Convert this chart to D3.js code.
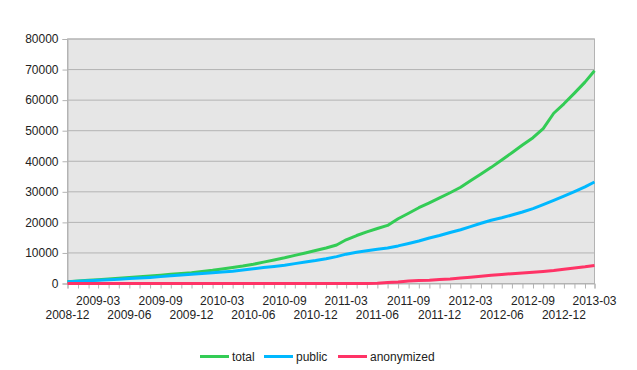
<!DOCTYPE html>
<html>
<head>
<meta charset="utf-8">
<script src="https://cdn.jsdelivr.net/npm/d3@7"></script>
<style>
  body { margin: 0; background: #fff; }
  text { font-family: "Liberation Sans", Arial, sans-serif; fill: #222; }
</style>
</head>
<body>
<div id="chart"></div>
<script>
// monthly samples, 2008-12 .. 2013-03
var months = d3.range(52).map(function(i) { return new Date(2008, 11 + i, 1); });

var total = [600, 850, 1050, 1250, 1450, 1700, 1950, 2200, 2450, 2700,
  3000, 3300, 3500, 3900, 4300, 4750, 5200, 5700, 6300, 7000,
  7700, 8400, 9200, 10000, 10800, 11600, 12600, 14300, 15700, 16900,
  18000, 19000, 21200, 23000, 24800, 26400, 28000, 29700, 31500, 33600,
  35800, 38000, 40400, 42800, 45300, 47700, 50700, 55700, 58800, 62300,
  65900, 69600];

var pub = [600, 750, 900, 1050, 1200, 1400, 1600, 1800, 2000, 2250,
  2500, 2750, 3000, 3250, 3500, 3750, 4000, 4400, 4800, 5200,
  5600, 6000, 6500, 7000, 7500, 8100, 8800, 9600, 10200, 10700,
  11200, 11600, 12300, 13100, 13900, 14900, 15700, 16700, 17600, 18600,
  19700, 20700, 21500, 22400, 23400, 24500, 25800, 27200, 28600, 30100,
  31600, 33200];

var anonymized = [0, 0, 0, 0, 0, 0, 0, 0, 0, 0,
  0, 0, 0, 0, 0, 0, 0, 0, 0, 0,
  0, 0, 0, 0, 0, 0, 0, 0, 0, 0,
  100, 300, 500, 800, 1000, 1100, 1300, 1500, 1800, 2050,
  2350, 2700, 2950, 3200, 3450, 3700, 3950, 4250, 4650, 5050,
  5450, 5900];

var seriesNames = ["total", "public", "anonymized"];
var seriesColors = ["#33cc55", "#00b8ff", "#ff3366"];
var yTicks = [0, 10000, 20000, 30000, 40000, 50000, 60000, 70000, 80000];

var width = 637, height = 370;
var margin = { left: 67.5, right: 42.5, top: 39, bottom: 86.5 };

var svg = d3.select("#chart").append("svg")
  .attr("width", width)
  .attr("height", height);

var x = d3.scaleTime()
  .domain([months[0], months[months.length - 1]])
  .range([margin.left, width - margin.right]);

var y = d3.scaleLinear()
  .domain([0, 80000])
  .range([height - margin.bottom, margin.top]);

/*
 * Plot background and grid.
 */
svg.append("rect")
  .attr("x", margin.left)
  .attr("y", margin.top)
  .attr("width", width - margin.left - margin.right)
  .attr("height", height - margin.top - margin.bottom)
  .attr("fill", "#e6e6e6")
  .attr("stroke", "#b3b3b3");

svg.append("g")
  .selectAll("line")
  .data(yTicks)
  .enter().append("line")
  .attr("x1", margin.left)
  .attr("x2", width - margin.right)
  .attr("y1", function(d) { return y(d); })
  .attr("y2", function(d) { return y(d); })
  .attr("stroke", "#b3b3b3");

/*
 * Y axis.
 */
var yAxis = svg.append("g")
  .attr("transform", "translate(" + margin.left + ",0)")
  .call(d3.axisLeft(y).tickValues(yTicks).tickSize(5).tickPadding(4).tickFormat(d3.format("d")));
yAxis.select(".domain").attr("stroke", "#b3b3b3");
yAxis.selectAll(".tick line").attr("stroke", "#b3b3b3");
yAxis.selectAll("text").style("font-size", "12px").attr("fill", "#222");

/*
 * X axis: monthly ticks, every third labelled on alternating rows.
 */
var xAxis = svg.append("g")
  .attr("transform", "translate(0," + y(0) + ")")
  .call(d3.axisBottom(x).tickValues(months).tickSize(5).tickFormat(""));
xAxis.select(".domain").attr("stroke", "#b3b3b3");
xAxis.selectAll(".tick line").attr("stroke", "#b3b3b3");

var fmt = d3.timeFormat("%Y-%m");
svg.append("g")
  .selectAll("text")
  .data(months.filter(function(d, i) { return i % 3 === 0; }))
  .enter().append("text")
  .attr("x", function(d) { return x(d); })
  .attr("y", function(d, i) { return i % 2 === 0 ? 318.5 : 304.5; })
  .attr("text-anchor", "middle")
  .style("font-size", "12px")
  .text(fmt);

/*
 * Lines.
 */
var line = d3.line()
  .x(function(d, i) { return x(months[i]); })
  .y(function(d) { return y(d); });

[total, pub, anonymized].forEach(function(s, k) {
  svg.append("path")
    .datum(s)
    .attr("d", line)
    .attr("fill", "none")
    .attr("stroke", seriesColors[k])
    .attr("stroke-width", 3)
    .attr("stroke-linejoin", "round");
});

/*
 * Legend.
 */
var legendX = [200, 264, 338];
var legend = svg.append("g")
  .selectAll("g")
  .data(seriesNames)
  .enter().append("g")
  .attr("transform", function(d, i) { return "translate(" + legendX[i] + ",356.5)"; });

legend.append("line")
  .attr("x1", 0).attr("x2", 29)
  .attr("stroke", function(d, i) { return seriesColors[i]; })
  .attr("stroke-width", 3);

legend.append("text")
  .attr("x", 32)
  .attr("dy", "0.35em")
  .style("font-size", "12px")
  .text(function(d) { return d; });
</script>
</body>
</html>
